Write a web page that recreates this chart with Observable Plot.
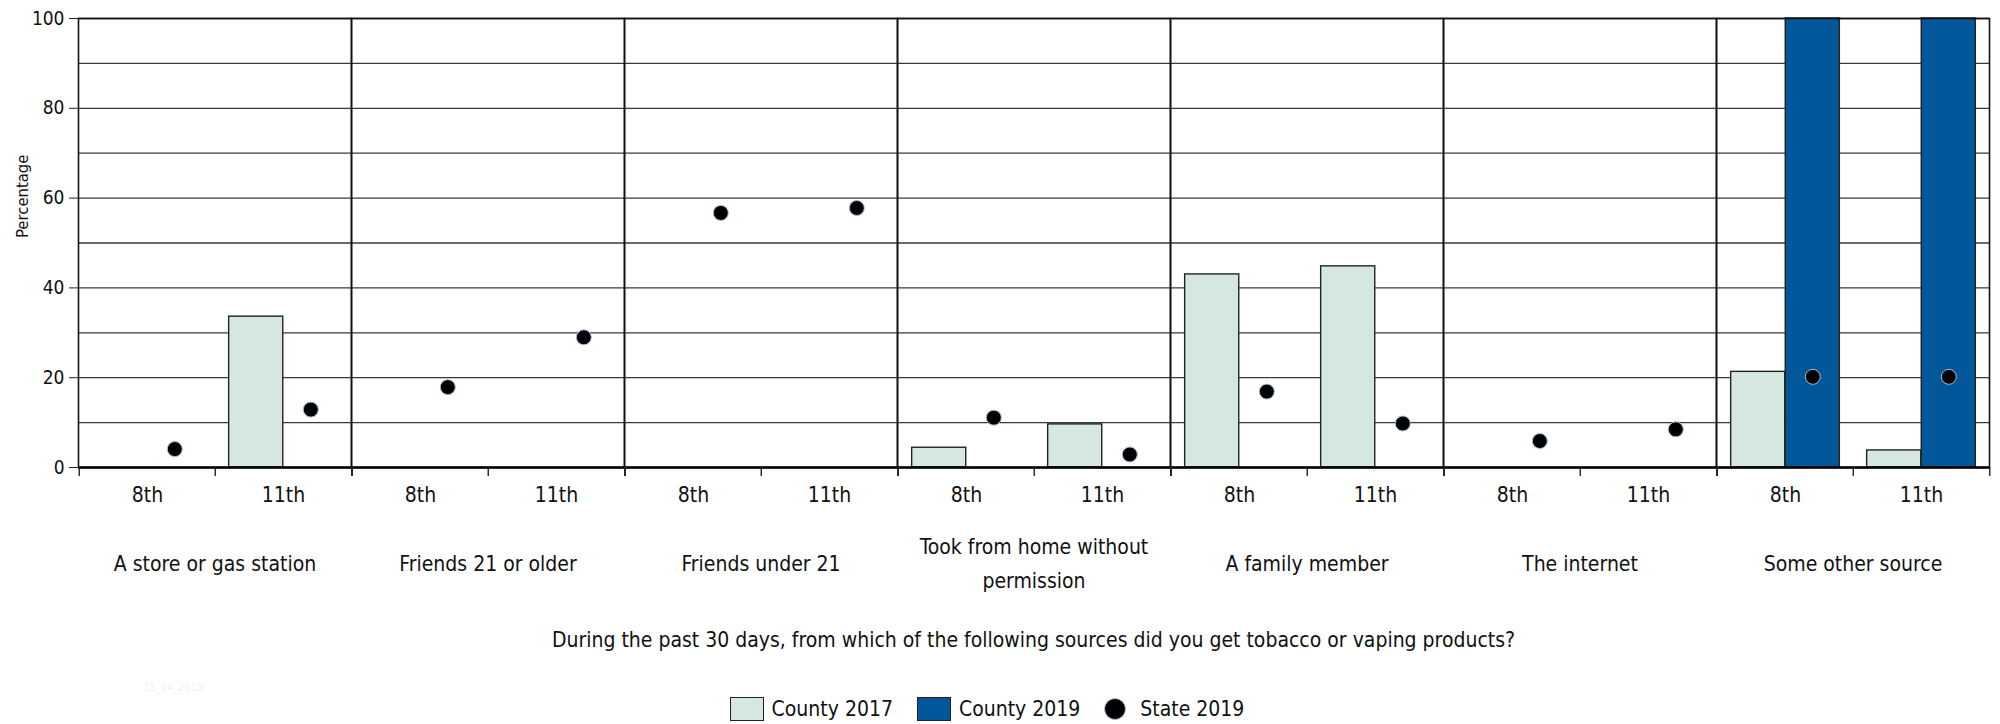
<!DOCTYPE html>
<html>
<head>
<meta charset="utf-8">
<script src="https://cdn.jsdelivr.net/npm/d3@7"></script>
<script src="https://cdn.jsdelivr.net/npm/@observablehq/plot@0.6"></script>
<style>
  html, body { margin: 0; padding: 0; background: #fff; }
  body { width: 2000px; height: 724px; position: relative; overflow: hidden;
         font-family: "Liberation Sans Narrow", "Arial Narrow", "DejaVu Sans Condensed", sans-serif; color: #111; }
  #chart svg { display: block; }
  #title { box-sizing: border-box; padding-left: 78px; padding-right: 11px; text-align: center;
           font-size: 21px; line-height: 24px; height: 24px; margin-top: 28px; }
  #legend { display: flex; justify-content: center; align-items: center; margin-top: 44px;
            height: 26px; font-size: 21px; padding-right: 26px; }
  .item { display: flex; align-items: center; margin: 0 12px; }
  .sw { width: 32px; height: 22px; border: 1.5px solid #222; margin-right: 8px; }
  .dot { width: 20px; height: 20px; border-radius: 50%; background: #000; border: 1px solid #a8c0dc; margin-right: 14px; }
  #stamp { position: absolute; left: 143px; top: 681px; font-size: 11px; color: #f2f2f2; }
</style>
</head>
<body>
<div id="chart"></div>
<div id="title"></div>
<div id="legend"></div>
<div id="stamp">11_14_2019</div>
<script>
const categories = ["A store or gas station", "Friends 21 or older", "Friends under 21",
  "Took from home without permission", "A family member", "The internet", "Some other source"];
const grades = ["8th", "11th"];
const series = ["County 2017", "County 2019", "State 2019"];
// values per category, [8th, 11th]
const county2017 = [[null, 33.6], [null, null], [null, null], [4.4, 9.6], [43.0, 44.8], [null, null], [21.3, 3.8]];
const county2019 = [[null, null], [null, null], [null, null], [null, null], [null, null], [null, null], [100, 100]];
const state2019  = [[4.1, 12.9], [17.9, 29.0], [56.7, 57.8], [11.1, 2.9], [16.9, 9.8], [5.9, 8.5], [20.2, 20.2]];
const yTicks = [0, 20, 40, 60, 80, 100];
const yGrid = [10, 20, 30, 40, 50, 60, 70, 80, 90, 100];
const titleText = "During the past 30 days, from which of the following sources did you get tobacco or vaping products?";
const yLabel = "Percentage";

const colors = {"County 2017": "#d5e8df", "County 2019": "#02569a", "State 2019": "#000"};
const FONT = '"Liberation Sans Narrow", "Arial Narrow", "DejaVu Sans Condensed", sans-serif';

const rows = [];
categories.forEach((c, i) => grades.forEach((g, j) => rows.push({
  category: c, grade: g, c17: county2017[i][j], c19: county2019[i][j], st: state2019[i][j]
})));

const W = 2000, H = 600, ML = 78, MR = 11, MT = 18, MB = 133;
const bw = (W - ML - MR) / categories.length / grades.length;
const pad = bw * 0.1, barW = bw * 0.4;

const chart = Plot.plot({
  width: W, height: H, marginLeft: ML, marginRight: MR, marginTop: MT, marginBottom: MB,
  style: {fontFamily: FONT, fontSize: "21px", color: "#111", background: "white", overflow: "visible"},
  fx: {domain: categories, padding: 0, axis: null},
  x: {domain: grades, padding: 0, axis: null},
  y: {domain: [0, 100], axis: null},
  marks: [
    Plot.gridY({ticks: yGrid, stroke: "#3a3a3a", strokeOpacity: 1, strokeWidth: 1.3}),
    Plot.barY(rows, {fx: "category", x: "grade", y: "c17", fill: colors["County 2017"],
      stroke: "#222", strokeWidth: 1.4, insetLeft: pad, insetRight: bw - pad - barW}),
    Plot.barY(rows, {fx: "category", x: "grade", y: "c19", fill: colors["County 2019"],
      stroke: "#222", strokeWidth: 1.4, insetLeft: pad + barW, insetRight: pad}),
    Plot.frame({stroke: "#111", strokeWidth: 1.6}),
    Plot.ruleY([0], {stroke: "#000", strokeWidth: 2.6}),
    Plot.dot(rows, {fx: "category", x: "grade", y: "st", dx: bw * 0.2, r: 7.5,
      fill: colors["State 2019"], stroke: "#a8c0dc", strokeWidth: 1}),
    Plot.axisY({ticks: yTicks, tickSize: 9, tickPadding: 5, fontSize: 19, label: null, stroke: "#222"}),
    Plot.text([yLabel], {fx: () => categories[0], frameAnchor: "left", dx: -56, dy: -5, rotate: -90, fontSize: 16.5}),
    Plot.axisX({tickSize: 0, tickPadding: 20, fontSize: 21, label: null}),
    Plot.axisX({tickSize: 9, tickFormat: () => "", dx: -bw / 2, label: null, stroke: "#222", strokeWidth: 1.4}),
    Plot.axisX({ticks: ["11th"], tickSize: 9, tickFormat: () => "", dx: bw / 2, label: null, stroke: "#222", strokeWidth: 1.4}),
    Plot.text(categories, {fx: d => d, frameAnchor: "bottom", dy: 93, lineWidth: 12,
      lineAnchor: "middle", lineHeight: 1.6, fontSize: 21})
  ]
});
document.getElementById("chart").appendChild(chart);
document.getElementById("title").textContent = titleText;

const legend = document.getElementById("legend");
series.forEach(s => {
  const item = document.createElement("div");
  item.className = "item";
  const m = document.createElement("div");
  if (s === "State 2019") { m.className = "dot"; }
  else { m.className = "sw"; m.style.background = colors[s]; }
  const t = document.createElement("span");
  t.textContent = s;
  item.appendChild(m); item.appendChild(t);
  legend.appendChild(item);
});
</script>
</body>
</html>
